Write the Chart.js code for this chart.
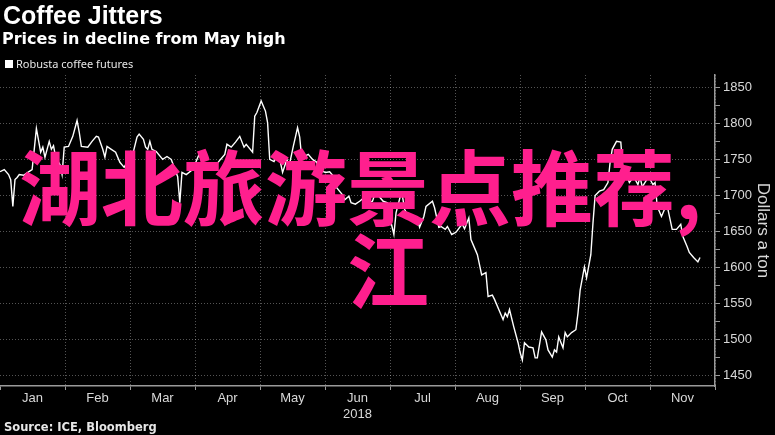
<!DOCTYPE html>
<html>
<head>
<meta charset="utf-8">
<script src="https://cdn.jsdelivr.net/npm/chart.js@4"></script>
<style>
  html, body { margin:0; padding:0; background:#000; }
  #wrap { position:relative; width:775px; height:435px; background:#000; overflow:hidden; }
  #c { position:absolute; left:0; top:0; }
  .t { position:absolute; white-space:nowrap; color:#fff; }
  #title { left:3px; top:3px; font:bold 25px/25px "Liberation Sans", Arial, sans-serif; }
  #subtitle { left:2px; top:31px; font:bold 16px/16px "DejaVu Sans", sans-serif; }
  #legbox { position:absolute; left:5px; top:60px; width:8px; height:8px; background:#fff; }
  #legend { left:16px; top:58.3px; font:11px/11px "Noto Sans", sans-serif; color:#e6e6e6; }
  #source { left:4px; top:422.3px; font:bold 11.5px/11.5px "DejaVu Sans", sans-serif; color:#e6e6e6; }
  .pink { position:absolute; white-space:nowrap; color:#ff1f8e; font:bold 82px/82px "Noto Sans CJK SC", sans-serif; z-index:5; }
  #pink1 { left:19px; top:143px; }
  #pink2 { left:347px; top:226px; }
</style>
</head>
<body>
<div id="wrap">
  <canvas id="c" width="775" height="435"></canvas>
  <div class="t" id="title">Coffee Jitters</div>
  <div class="t" id="subtitle">Prices in decline from May high</div>
  <div id="legbox"></div>
  <div class="t" id="legend">Robusta coffee futures</div>
  <div class="t" id="source">Source: ICE, Bloomberg</div>
  <div class="pink" id="pink1">湖北旅游景点推荐,</div>
  <div class="pink" id="pink2">江</div>
</div>
<script>
// Month labels (category axis), year shown under June
const monthLabels = ['Jan','Feb','Mar','Apr','May',['Jun','2018'],'Jul','Aug','Sep','Oct','Nov'];
// Day of year 2018 (0 = Jan 1) for each observation
const days = [0,2,4,5,6,7,8,9,11,13,15,16,17,19,20,21,22,23,24,25,26,28,29,30,32,34,36,37,38,41,43,45,46,48,49,50,52,54,56,58,60,62,64,65,67,68,69,70,71,73,76,78,80,83,84,85,87,90,92,93,96,98,100,103,105,106,108,110,112,114,115,118,119,120,122,124,125,126,128,129,131,132,134,135,137,139,140,141,142,144,146,148,149,152,154,156,157,160,161,163,164,166,168,170,172,174,175,177,179,181,182,184,185,187,188,189,191,193,195,196,198,199,202,203,205,206,208,209,211,213,215,216,217,219,220,222,223,225,227,228,230,231,233,235,236,237,238,240,242,243,244,245,247,249,250,251,253,255,256,258,259,260,261,263,264,265,267,269,270,271,273,274,276,277,278,280,282,284,285,286,288,290,291,293,294,296,298,299,300,303,305,306,307,309,311,312,314,316,318,319,321,322,324,326,327];
// Robusta coffee futures, dollars a ton
const prices = [1733,1736,1729,1722,1685,1722,1725,1729,1728,1732,1736,1764,1793,1760,1767,1753,1764,1775,1764,1769,1753,1743,1729,1767,1768,1782,1804,1788,1768,1767,1775,1782,1781,1764,1753,1768,1764,1760,1746,1739,1750,1757,1781,1785,1778,1767,1764,1775,1764,1761,1750,1754,1750,1726,1690,1732,1729,1736,1750,1757,1736,1736,1739,1750,1757,1771,1767,1774,1782,1767,1771,1760,1810,1815,1831,1817,1801,1750,1747,1753,1746,1732,1750,1740,1768,1794,1781,1750,1754,1757,1750,1746,1736,1732,1733,1726,1712,1701,1694,1699,1690,1688,1692,1697,1690,1692,1701,1699,1692,1690,1671,1646,1676,1699,1699,1681,1669,1667,1667,1656,1671,1685,1692,1683,1656,1657,1653,1657,1646,1649,1657,1660,1654,1669,1639,1625,1618,1590,1593,1560,1562,1556,1542,1528,1537,1532,1542,1518,1496,1482,1472,1496,1490,1489,1475,1475,1511,1500,1486,1476,1486,1483,1504,1489,1510,1504,1510,1514,1537,1569,1601,1586,1618,1662,1700,1706,1708,1718,1746,1764,1775,1774,1736,1726,1718,1726,1715,1726,1712,1726,1715,1718,1685,1671,1685,1681,1653,1653,1660,1643,1629,1621,1614,1608,1614];
// Right axis tick values (labels every 50)
const yTickValues = [1450,1475,1500,1525,1550,1575,1600,1625,1650,1675,1700,1725,1750,1775,1800,1825,1850];

const gridCol = 'rgba(255,255,255,0.33)';
const axisCol = '#9a9a9a';
const labelCol = '#d8d8d8';

new Chart(document.getElementById('c'), {
  type: 'line',
  data: {
    labels: monthLabels,
    datasets: [{
      label: 'Robusta coffee futures',
      data: days.map((d, i) => ({ x: d, y: prices[i] })),
      xAxisID: 'xd',
      yAxisID: 'y',
      borderColor: '#ffffff',
      borderWidth: 1.4,
      pointRadius: 0,
      tension: 0,
      fill: false
    }]
  },
  options: {
    responsive: false,
    animation: false,
    events: [],
    layout: { padding: { top: 75, left: 0, right: 0, bottom: 0 } },
    plugins: { legend: { display: false }, tooltip: { enabled: false }, title: { display: false } },
    scales: {
      x: {
        type: 'category',
        position: 'bottom',
        offset: true,
        afterFit: s => { s.height = 49; },
        grid: {
          offset: true,
          color: c => (c.index === 0 ? 'rgba(0,0,0,0)' : gridCol),
          lineWidth: 1,
          tickLength: 4,
          tickColor: axisCol,
          tickBorderDash: []
        },
        border: { display: true, color: axisCol, width: 1.5, dash: [1, 2] },
        ticks: {
          color: labelCol,
          padding: 1,
          maxRotation: 0,
          autoSkip: false,
          font: { family: 'Liberation Sans', size: 13, lineHeight: 1.2 }
        }
      },
      xd: {
        type: 'linear',
        display: false,
        min: 0,
        max: 334
      },
      y: {
        type: 'linear',
        position: 'right',
        min: 1436,
        max: 1867,
        afterFit: s => { s.width = 60; },
        afterBuildTicks: s => { s.ticks = yTickValues.map(v => ({ value: v })); },
        grid: {
          color: c => (c.tick && c.tick.value % 50 === 0 ? gridCol : 'rgba(0,0,0,0)'),
          lineWidth: 1,
          tickLength: 5,
          tickColor: axisCol,
          tickBorderDash: []
        },
        border: { display: true, color: axisCol, width: 1.5, dash: [1, 2] },
        ticks: {
          color: labelCol,
          padding: 3,
          font: { family: 'Liberation Sans', size: 13 },
          callback: v => (v % 50 === 0 ? String(v) : '')
        },
        title: {
          display: true,
          text: 'Dollars a ton',
          color: labelCol,
          font: { family: 'Liberation Sans', size: 17, lineHeight: 1.2 },
          padding: { top: 2, bottom: 2 }
        }
      }
    }
  }
});
</script>
</body>
</html>
